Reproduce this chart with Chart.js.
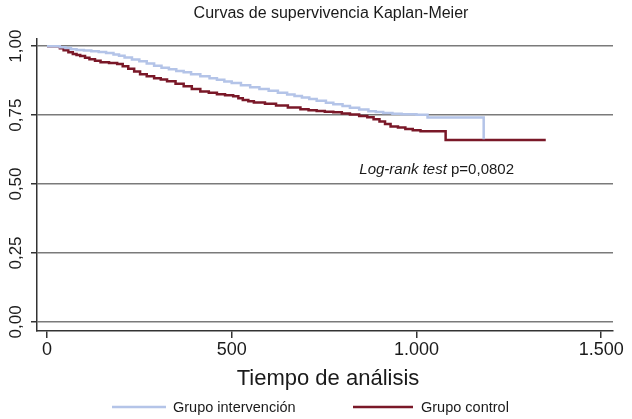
<!DOCTYPE html>
<html>
<head>
<meta charset="utf-8">
<script src="https://cdn.jsdelivr.net/npm/chart.js@4.4.1/dist/chart.umd.min.js"></script>
<style>
  html, body { margin: 0; padding: 0; background: #fff; }
  #wrap { width: 632px; height: 419px; }
</style>
</head>
<body>
<div id="wrap"><canvas id="kmChart" width="632" height="419"></canvas></div>
<script>
// datos (tiempo en días, supervivencia)
const tiemposIntervencion = [0, 20, 35, 50, 65, 80, 100, 120, 140, 160, 180, 195, 210, 230, 250, 270, 290, 310, 330, 350, 370, 390, 415, 440, 460, 480, 500, 525, 550, 575, 600, 625, 650, 670, 690, 710, 730, 755, 775, 800, 820, 845, 870, 890, 910, 935, 960, 1000, 1030, 1182];
const survIntervencion   = [1, 1, 0.996, 0.993, 0.989, 0.986, 0.984, 0.982, 0.979, 0.975, 0.970, 0.965, 0.959, 0.952, 0.945, 0.937, 0.929, 0.922, 0.916, 0.910, 0.905, 0.898, 0.891, 0.884, 0.878, 0.872, 0.866, 0.858, 0.851, 0.845, 0.838, 0.831, 0.825, 0.819, 0.814, 0.808, 0.802, 0.795, 0.789, 0.783, 0.777, 0.770, 0.764, 0.761, 0.758, 0.755, 0.753, 0.751, 0.741, 0.662];

const tiemposControl = [0, 25, 35, 45, 58, 70, 80, 90, 103, 115, 130, 145, 168, 190, 205, 220, 236, 252, 270, 290, 308, 325, 348, 370, 392, 415, 438, 460, 482, 504, 518, 530, 545, 560, 590, 620, 652, 686, 708, 730, 752, 775, 798, 820, 845, 867, 884, 900, 915, 930, 950, 970, 990, 1011, 1079, 1350];
const survControl   = [1, 1, 0.992, 0.985, 0.978, 0.972, 0.968, 0.964, 0.958, 0.953, 0.947, 0.942, 0.939, 0.935, 0.927, 0.918, 0.908, 0.898, 0.891, 0.884, 0.879, 0.873, 0.864, 0.855, 0.845, 0.836, 0.831, 0.826, 0.822, 0.818, 0.811, 0.805, 0.800, 0.796, 0.791, 0.785, 0.778, 0.771, 0.768, 0.765, 0.762, 0.760, 0.756, 0.752, 0.747, 0.742, 0.735, 0.727, 0.718, 0.709, 0.705, 0.700, 0.695, 0.691, 0.660, 0.660];

const xTicks = [0, 500, 1000, 1500];
const yTicks = [0, 0.25, 0.5, 0.75, 1];

const titulo = 'Curvas de supervivencia Kaplan-Meier';
const tituloX = 'Tiempo de análisis';
const etiquetas = ['Grupo intervención', 'Grupo control'];

function toPoints(xs, ys) {
    return xs.map((x, i) => ({ x: x, y: ys[i] }));
}

function fmtMiles(v) {
    return v.toString().replace(/\B(?=(\d{3})+(?!\d))/g, ".");
}

const FONT = '"Liberation Sans", Arial, Helvetica, sans-serif';

// textos, etiquetas del eje y y leyenda
const decor = {
    id: 'decor',
    afterDraw(chart) {
        const ctx = chart.ctx;
        const ys = chart.scales.y;
        ctx.save();
        ctx.fillStyle = '#1a1a1a';

        ctx.font = '16px ' + FONT;
        ctx.textAlign = 'center';
        ctx.textBaseline = 'middle';
        ctx.fillText(titulo, 331, 14);

        // etiquetas del eje y, giradas
        ctx.font = '17px ' + FONT;
        yTicks.forEach(v => {
            const py = ys.getPixelForValue(v);
            ctx.save();
            ctx.translate(16, py);
            ctx.rotate(-Math.PI / 2);
            ctx.fillText(v.toFixed(2).replace('.', ','), 0, 0);
            ctx.restore();
        });

        ctx.font = '22px ' + FONT;
        ctx.fillText(tituloX, 328, 379);

        // anotación log-rank (alineada a la derecha en x=514)
        ctx.textAlign = 'left';
        const t1 = 'Log-rank test';
        const t2 = ' p=0,0802';
        ctx.font = 'italic 15px ' + FONT;
        const w1 = ctx.measureText(t1).width;
        ctx.font = '15px ' + FONT;
        const w2 = ctx.measureText(t2).width;
        const x0 = 514 - w1 - w2;
        ctx.font = 'italic 15px ' + FONT;
        ctx.fillText(t1, x0, 170);
        ctx.font = '15px ' + FONT;
        ctx.fillText(t2, x0 + w1, 170);

        // leyenda
        const pos = [[112, 166, 173], [353, 413, 421]];
        chart.data.datasets.forEach((ds, i) => {
            const p = pos[i];
            ctx.strokeStyle = ds.borderColor;
            ctx.lineWidth = 2.5;
            ctx.beginPath();
            ctx.moveTo(p[0], 407);
            ctx.lineTo(p[1], 407);
            ctx.stroke();
            ctx.font = '14.5px ' + FONT;
            ctx.fillText(ds.label, p[2], 408);
        });
        ctx.restore();
    }
};

new Chart(document.getElementById('kmChart').getContext('2d'), {
    type: 'line',
    data: {
        datasets: [{
            label: etiquetas[0],
            data: toPoints(tiemposIntervencion, survIntervencion),
            borderColor: 'rgb(180, 196, 232)',
            borderWidth: 2.5,
            stepped: true,
            pointRadius: 0,
            fill: false
        }, {
            label: etiquetas[1],
            data: toPoints(tiemposControl, survControl),
            borderColor: 'rgb(122, 24, 40)',
            borderWidth: 2.5,
            stepped: true,
            pointRadius: 0,
            fill: false
        }]
    },
    options: {
        responsive: false,
        animation: false,
        layout: { padding: { top: 39, right: 19, left: 0, bottom: 0 } },
        plugins: {
            legend: { display: false },
            tooltip: { enabled: false },
            title: { display: false }
        },
        scales: {
            x: {
                type: 'linear',
                min: -27,
                max: 1532,
                afterBuildTicks: s => { s.ticks = xTicks.map(v => ({ value: v })); },
                afterFit: s => { s.height = 88; },
                ticks: {
                    callback: v => fmtMiles(v),
                    font: { family: FONT, size: 18 },
                    color: '#1a1a1a',
                    padding: 1,
                    maxRotation: 0
                },
                grid: { drawOnChartArea: false, drawTicks: true, tickLength: 7, color: '#333', lineWidth: 1.5 },
                border: { color: '#333', width: 1.5 }
            },
            y: {
                type: 'linear',
                min: -0.033,
                max: 1.026,
                afterBuildTicks: s => { s.ticks = yTicks.map(v => ({ value: v })); },
                afterFit: s => { s.width = 37; },
                ticks: { display: false },
                grid: { color: '#7a7a7a', lineWidth: 1.5, tickLength: 6, tickColor: '#333' },
                border: { color: '#333', width: 1.5 }
            }
        }
    },
    plugins: [decor]
});
</script>
</body>
</html>
